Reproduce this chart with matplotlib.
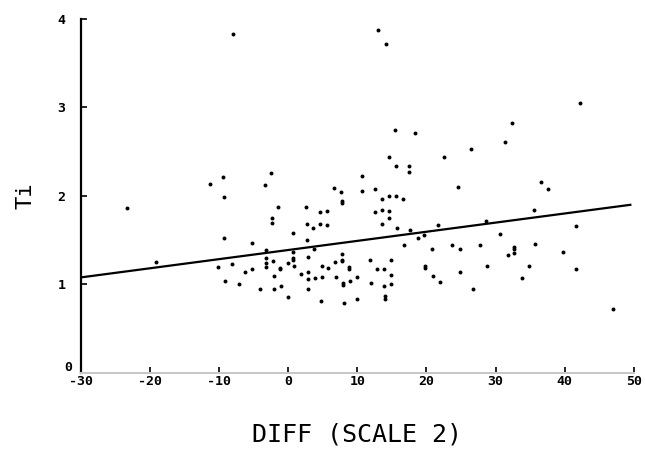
import matplotlib
matplotlib.use('Agg')
import matplotlib.pyplot as plt
import matplotlib.transforms as mtrans
import numpy as np

# scatter values: DIFF (scale 2) vs Ti
diff = [-8.0, -23.4, -11.4, -9.4, -9.3, -3.4, -2.5, -1.5, -2.3, -2.3,
        2.5, 4.6, 5.6, 2.7, 3.6, 4.6, 5.6, 0.7, 2.7, -9.3,
        -5.3, -3.2, -3.2, -3.2, -3.2, 0.7, 0.7, 0.7, 0.8, 3.7,
        2.8, -10.2, -8.2, -9.1, -7.1, -6.2, -5.2, -2.2, -1.2, -1.2,
        -0.1, -2.1, -4.1, -2.1, -1.1, -0.1, 1.8, 2.9, 2.9, 3.9,
        4.9, 4.9, 5.8, 2.9, 14.6, 15.6, 17.5, 17.5, 22.5, 26.5,
        13.0, 14.1, 42.2, 15.4, 18.4, 32.4, 31.4, 10.6, 6.6, 7.6,
        7.7, 7.7, 10.6, 12.6, 24.6, 36.6, 37.6, 13.6, 14.6, 15.6,
        16.6, 12.6, 13.6, 14.6, 14.6, 13.6, 15.7, 21.6, 35.6, 41.6,
        28.6, 17.6, 18.7, 19.7, 16.7, 20.8, 23.7, 24.8, 7.8, 6.8,
        7.8, 7.8, 8.8, 8.8, 6.9, 7.9, 7.9, 8.9, 9.9, 11.8,
        12.8, 13.9, 14.8, 14.8, 11.9, 13.9, 14.9, 14.0, 14.0, 9.9,
        8.1, 19.8, 19.8, 20.9, 21.9, 24.8, 26.8, 30.7, 27.7, 32.7,
        32.7, 35.7, 31.8, 32.7, 39.7, 41.7, 28.8, 34.8, 33.8, 47.0,
        -19.2, 4.7]
ti = [3.83, 1.86, 2.13, 2.21, 1.99, 2.12, 2.26, 1.88, 1.75, 1.69,
      1.87, 1.82, 1.83, 1.68, 1.64, 1.68, 1.67, 1.58, 1.50, 1.52,
      1.47, 1.39, 1.30, 1.24, 1.20, 1.37, 1.30, 1.28, 1.21, 1.40,
      1.31, 1.20, 1.23, 1.04, 1.01, 1.14, 1.18, 1.27, 1.19, 1.17,
      1.24, 1.10, 0.95, 0.95, 0.98, 0.86, 1.12, 1.14, 1.06, 1.07,
      1.09, 1.21, 1.19, 0.95, 2.44, 2.34, 2.34, 2.27, 2.44, 2.53,
      3.87, 3.72, 3.05, 2.74, 2.71, 2.82, 2.61, 2.22, 2.09, 2.05,
      1.94, 1.92, 2.06, 2.08, 2.10, 2.16, 2.08, 1.96, 2.00, 2.00,
      1.96, 1.82, 1.84, 1.83, 1.75, 1.68, 1.64, 1.67, 1.84, 1.66,
      1.72, 1.61, 1.52, 1.56, 1.45, 1.40, 1.45, 1.40, 1.34, 1.25,
      1.28, 1.26, 1.20, 1.18, 1.09, 1.02, 0.99, 1.04, 1.09, 1.28,
      1.18, 1.18, 1.28, 1.11, 1.02, 0.98, 1.01, 0.87, 0.84, 0.84,
      0.79, 1.21, 1.19, 1.10, 1.03, 1.14, 0.95, 1.57, 1.45, 1.42,
      1.40, 1.46, 1.33, 1.35, 1.37, 1.18, 1.21, 1.21, 1.07, 0.72,
      1.25, 0.81]

# fitted line end points
fit_x = [-30, 49.5]
fit_y = [1.08, 1.90]

xticks = [-30, -20, -10, 0, 10, 20, 30, 40, 50]
yticks = [0, 1, 2, 3, 4]

fig = plt.figure(figsize=(6.45, 4.51), dpi=100)
ax = fig.add_axes([0.1256, 0.173, 0.857, 0.785])

ax.scatter(diff, ti, s=8, color='black', linewidths=0)
ax.plot(fit_x, fit_y, color='black', lw=1.6)

ax.set_xlim(-30, 50)
ax.set_ylim(0, 4)

for s in ['top', 'right']:
    ax.spines[s].set_visible(False)
ax.spines['left'].set_linewidth(1.6)
ax.spines['bottom'].set_color('#c8c8c8')
ax.spines['bottom'].set_linewidth(1.5)

tick_font = dict(family='DejaVu Sans Mono', weight='bold', size=9.5)
ax.set_xticks(xticks)
ax.set_xticklabels([str(t) for t in xticks], fontdict=tick_font)
ax.set_yticks(yticks)
ax.set_yticklabels([str(t) for t in yticks], fontdict=tick_font)
ax.tick_params(axis='x', direction='in', length=4, width=1.2, pad=1.5)
ax.tick_params(axis='y', direction='in', length=4, width=1.2, pad=11)

# the zero on the y axis sits a little higher, tucked above "-30"
zero = ax.get_yticklabels()[0]
zero.set_transform(zero.get_transform() +
                   mtrans.ScaledTranslation(5/72, 5/72, fig.dpi_scale_trans))

ax.set_xlabel('DIFF (SCALE 2)', family='DejaVu Sans Mono', size=18, labelpad=25)
ax.set_ylabel('Ti', family='DejaVu Sans Mono', size=16, labelpad=16)

fig.savefig('out.png', dpi=100)
